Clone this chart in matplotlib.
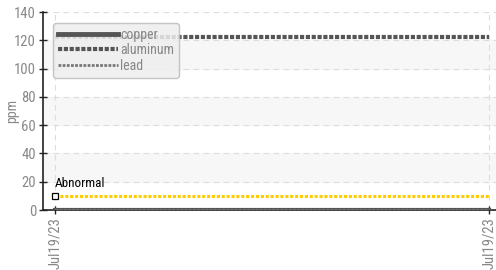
import matplotlib
matplotlib.use('Agg')
import matplotlib.pyplot as plt
from matplotlib.lines import Line2D
from matplotlib import font_manager

# pick a condensed face if one is installed
installed = {f.name for f in font_manager.fontManager.ttflist}
cond = [n for n in ['Roboto Condensed', 'Liberation Sans Narrow', 'Barlow Condensed',
                    'Asap Condensed', 'Archivo Narrow'] if n in installed]
plt.rcParams['font.family'] = cond[:1] + ['DejaVu Sans']

# Data
dates = ['Jul19/23', 'Jul19/23']
x_pos = [0, 1]
copper = [0, 0]
aluminum = [122, 122]
lead = [0, 0]
abnormal_level = 10
y_ticks = [0, 20, 40, 60, 80, 100, 120, 140]

fig = plt.figure(figsize=(4.96, 2.70), dpi=100)
ax = fig.add_axes([43 / 496, 60 / 270, 453 / 496, 198 / 270])

# Alternating bands
for lo in range(20, 140, 40):
    ax.axhspan(lo, lo + 20, color='#f7f7f7', zorder=0)

# Grid
for yv in y_ticks[1:]:
    ax.axhline(yv, color='#dddddd', lw=0.8, ls=(0, (5, 4)), zorder=1)
for xv in x_pos:
    ax.axvline(xv, color='#dddddd', lw=0.8, ls=(0, (5, 4)), zorder=1)

# Series
ax.plot(x_pos, copper, color='#555555', lw=3, zorder=3, label='copper')
ax.plot(x_pos, aluminum, color='#555555', lw=3, ls=(0, (1, 0.4)), zorder=3, label='aluminum')
ax.plot(x_pos, lead, color='#777777', lw=2, ls=(0, (1, 0.5)), zorder=4, label='lead')

# Abnormal threshold
ax.plot(x_pos, [abnormal_level] * 2, color='#ffcc00', lw=2.2, ls=(0, (1, 0.6)), zorder=2)
ax.plot([x_pos[0]], [abnormal_level], marker='s', ms=5, mfc='white', mec='black', mew=0.9, zorder=5, clip_on=False)
ax.text(x_pos[0], abnormal_level + 4, 'Abnormal', fontsize=9.5, color='black', ha='left', va='bottom', zorder=5)

ax.set_xlim(-12 / 434, 1 + 7 / 434)
ax.set_ylim(0, 140)
ax.set_yticks(y_ticks)
ax.set_xticks(x_pos)
ax.set_xticklabels(dates, rotation=90)
ax.tick_params(axis='both', colors='#222222', labelcolor='#888888', labelsize=10.5, width=1)
ax.tick_params(axis='y', direction='inout', length=6, pad=2)
ax.tick_params(axis='x', direction='inout', length=6, pad=2)
ax.set_ylabel('ppm', color='#888888', fontsize=10, va='center')
ax.yaxis.set_label_coords(-0.068, 0.5)

for s in ['top', 'right']:
    ax.spines[s].set_visible(False)
for s in ['left', 'bottom']:
    ax.spines[s].set_color('#222222')
    ax.spines[s].set_linewidth(1.2)

handles = [
    Line2D([], [], color='#555555', lw=3.5),
    Line2D([], [], color='#555555', lw=3, ls=(0, (1, 0.4))),
    Line2D([], [], color='#777777', lw=2, ls=(0, (1, 0.5))),
]
leg = ax.legend(handles, ['copper', 'aluminum', 'lead'], loc='upper left',
                bbox_to_anchor=(0.022, 0.944), borderaxespad=0, fontsize=10,
                handlelength=4.3, handletextpad=0.2, labelspacing=0.1, borderpad=0.35,
                frameon=True, fancybox=True, labelcolor='#888888')
leg.get_frame().set_facecolor('#eeeeee')
leg.get_frame().set_edgecolor('#bbbbbb')
leg.get_frame().set_alpha(0.85)
leg.set_zorder(6)

fig.savefig('out.png', dpi=100)
